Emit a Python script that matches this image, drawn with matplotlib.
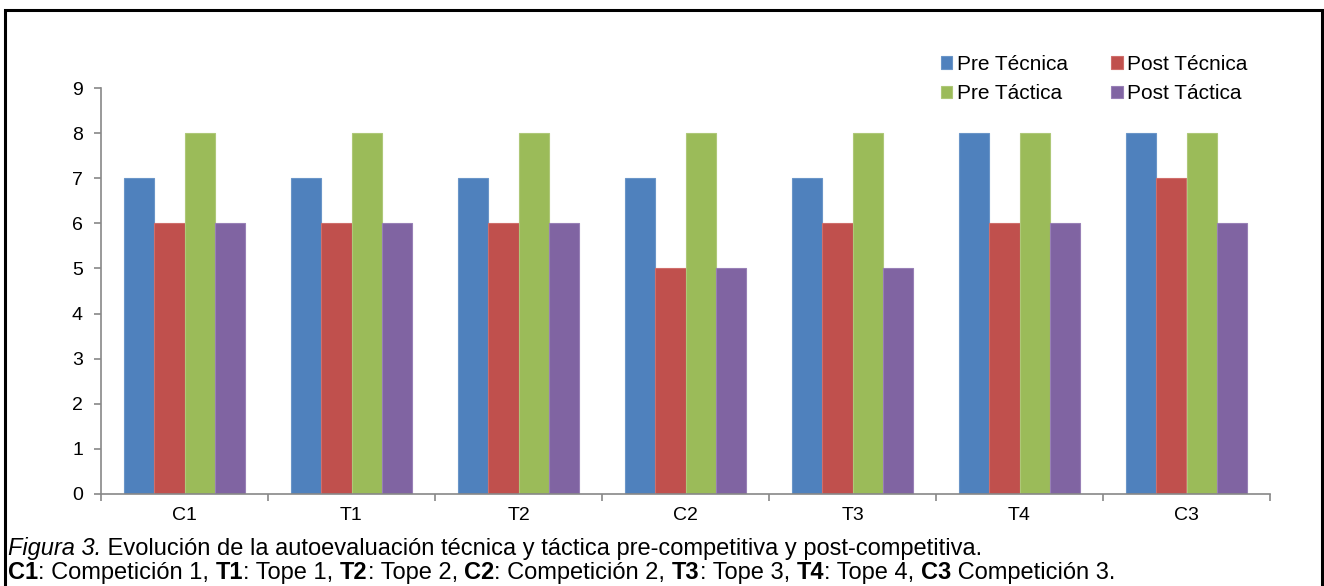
import matplotlib
matplotlib.use('Agg')
import matplotlib.pyplot as plt
import numpy as np
from matplotlib.patches import Rectangle

plt.rcParams['font.family'] = ['Liberation Sans', 'DejaVu Sans']

categories = ['C1', 'T1', 'T2', 'C2', 'T3', 'T4', 'C3']
pre_tecnica = [7, 7, 7, 7, 7, 8, 8]
post_tecnica = [6, 6, 6, 5, 6, 6, 7]
pre_tactica = [8, 8, 8, 8, 8, 8, 8]
post_tactica = [6, 6, 6, 5, 5, 6, 6]

series = [
    ('Pre Técnica', pre_tecnica, '#4F81BD', '#6A95C8'),
    ('Post Técnica', post_tecnica, '#C0504D', '#CF6E6B'),
    ('Pre Táctica', pre_tactica, '#9BBB59', '#AEC878'),
    ('Post Táctica', post_tactica, '#8064A2', '#9880B6'),
]

caption_1 = [('Figura 3.', 'italic', 'normal'),
             (' Evolución de la autoevaluación técnica y táctica pre-competitiva y post-competitiva.', 'normal', 'normal')]
caption_2 = [('C1', 'normal', 'bold'), (': Competición 1, ', 'normal', 'normal'),
             ('T1', 'normal', 'bold'), (': Tope 1, ', 'normal', 'normal'),
             ('T2', 'normal', 'bold'), (': Tope 2, ', 'normal', 'normal'),
             ('C2', 'normal', 'bold'), (': Competición 2, ', 'normal', 'normal'),
             ('T3', 'normal', 'bold'), (': Tope 3, ', 'normal', 'normal'),
             ('T4', 'normal', 'bold'), (': Tope 4, ', 'normal', 'normal'),
             ('C3', 'normal', 'bold'), (' Competición 3.', 'normal', 'normal')]

W, H = 1324, 586
fig = plt.figure(figsize=(W / 100, H / 100), dpi=100)
ax = fig.add_axes([101 / W, 1 - 494 / H, (1270 - 101) / W, (494 - 88) / H])

x = np.arange(len(categories))
bar_w = 1 / 5.5
for i, (name, vals, col, edge) in enumerate(series):
    ax.bar(x + (i - 1.5) * bar_w, vals, bar_w, color=col, edgecolor=edge,
           linewidth=0.8, label=name, zorder=2)

ax.set_xlim(-0.5, len(categories) - 0.5)
ax.set_ylim(0, 9)
ax.set_yticks(range(10))
ax.set_xticks(x)
ax.set_xticklabels(categories)
ax.set_xticks(np.arange(-0.5, len(categories)), minor=True)
ax.tick_params(axis='x', which='major', length=0, labelsize=14, pad=9)
ax.tick_params(axis='x', which='minor', length=5, color='#888888', width=1.2)
ax.tick_params(axis='y', length=5, color='#888888', width=1.2, labelsize=14, pad=8)
for s in ['top', 'right']:
    ax.spines[s].set_visible(False)
for s in ['left', 'bottom']:
    ax.spines[s].set_color('#888888')
    ax.spines[s].set_linewidth(1.2)

handles, labels = ax.get_legend_handles_labels()
order = [0, 2, 1, 3]
ax.legend([handles[k] for k in order], [labels[k] for k in order], ncol=2,
          loc='upper left', bbox_to_anchor=(941 / W, 1 - 55 / H),
          bbox_transform=fig.transFigure, frameon=False, fontsize=15,
          handlelength=0.55, handleheight=0.55, handletextpad=0.2,
          columnspacing=2.1, labelspacing=0.5, borderaxespad=0, borderpad=0)

# outer frame
fig.patches.append(Rectangle((5 / W, -0.05), (1317 / W), 1 - 10 / H + 0.05,
                             transform=fig.transFigure, fill=False,
                             edgecolor='black', linewidth=2.2))


def rich_line(parts, x0, y0):
    renderer = fig.canvas.get_renderer()
    xpos = x0
    for txt, style, weight in parts:
        t = fig.text(xpos, y0, txt, fontsize=17, style=style, weight=weight,
                     ha='left', va='baseline')
        bb = t.get_window_extent(renderer)
        xpos += bb.width / W


rich_line(caption_1, 8 / W, 1 - 555 / H)
rich_line(caption_2, 8 / W, 1 - 579 / H)

fig.savefig('out.png', dpi=100)
